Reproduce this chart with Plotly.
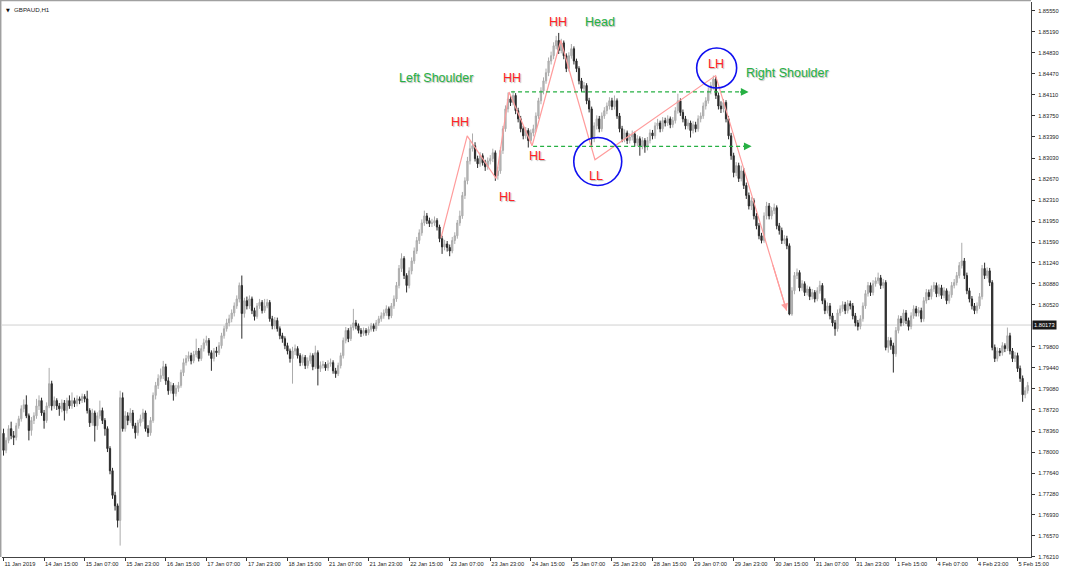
import plotly.graph_objects as go

# ---------------- data ----------------
first_open = 1.7832
closes = [
1.7803,1.7820,1.7840,1.7828,1.7825,1.7845,1.7857,1.7874,1.7881,1.7862,
1.7837,1.7854,1.7862,1.7879,1.7888,1.7867,1.7854,1.7879,1.7917,1.7879,
1.7888,1.7879,1.7874,1.7884,1.7871,1.7888,1.7879,1.7888,1.7883,1.7891,
1.7888,1.7895,1.7891,1.7871,1.7850,1.7867,1.7845,1.7862,1.7871,1.7854,
1.7840,1.7806,1.7768,1.7726,1.7708,1.7683,1.7893,1.7840,1.7862,1.7854,
1.7867,1.7845,1.7833,1.7850,1.7857,1.7867,1.7840,1.7833,1.7854,1.7897,
1.7914,1.7926,1.7931,1.7946,1.7922,1.7905,1.7914,1.7900,1.7909,1.7914,
1.7936,1.7953,1.7960,1.7965,1.7956,1.7967,1.7973,1.7960,1.7977,1.7987,
1.7991,1.7970,1.7960,1.7973,1.7970,1.7982,1.7999,1.8011,1.8021,1.8028,
1.8038,1.8050,1.8062,1.8085,1.8037,1.8059,1.8050,1.8062,1.8042,1.8032,
1.8050,1.8056,1.8042,1.8050,1.8056,1.8028,1.8016,1.8025,1.8011,1.7999,
1.7994,1.7982,1.7973,1.7960,1.7973,1.7977,1.7965,1.7953,1.7962,1.7948,
1.7956,1.7965,1.7946,1.7970,1.7943,1.7948,1.7950,1.7944,1.7951,1.7953,
1.7939,1.7934,1.7948,1.7965,1.7991,1.8008,1.7994,1.8013,1.8021,1.8016,
1.8008,1.8003,1.8008,1.8004,1.8010,1.8016,1.8011,1.8021,1.8028,1.8033,
1.8038,1.8045,1.8033,1.8050,1.8062,1.8085,1.8114,1.8131,1.8102,1.8085,
1.8110,1.8127,1.8144,1.8162,1.8175,1.8192,1.8204,1.8196,1.8191,1.8192,
1.8196,1.8185,1.8165,1.8151,1.8156,1.8150,1.8144,1.8162,1.8170,1.8192,
1.8204,1.8239,1.8264,1.8298,1.8319,1.8324,1.8302,1.8293,1.8307,1.8295,
1.8288,1.8298,1.8302,1.8312,1.8273,1.8281,1.8316,1.8353,1.8387,1.8404,
1.8398,1.8410,1.8384,1.8370,1.8353,1.8341,1.8350,1.8333,1.8346,1.8353,
1.8375,1.8401,1.8418,1.8435,1.8449,1.8469,1.8478,1.8495,1.8504,1.8487,
1.8500,1.8478,1.8456,1.8478,1.8490,1.8469,1.8456,1.8435,1.8422,1.8427,
1.8401,1.8387,1.8336,1.8358,1.8370,1.8353,1.8375,1.8384,1.8392,1.8401,
1.8391,1.8401,1.8375,1.8353,1.8336,1.8346,1.8333,1.8339,1.8344,1.8329,
1.8336,1.8324,1.8333,1.8322,1.8333,1.8346,1.8341,1.8358,1.8363,1.8353,
1.8367,1.8363,1.8370,1.8360,1.8367,1.8384,1.8401,1.8381,1.8370,1.8358,
1.8363,1.8350,1.8360,1.8353,1.8370,1.8375,1.8392,1.8401,1.8418,1.8427,
1.8438,1.8410,1.8392,1.8387,1.8398,1.8370,1.8341,1.8307,1.8278,1.8290,
1.8268,1.8281,1.8256,1.8239,1.8221,1.8230,1.8204,1.8187,1.8170,1.8162,
1.8204,1.8221,1.8204,1.8213,1.8218,1.8187,1.8179,1.8162,1.8165,1.8153,
1.8036,1.8076,1.8102,1.8107,1.8081,1.8088,1.8073,1.8079,1.8066,1.8073,
1.8062,1.8076,1.8085,1.8059,1.8042,1.8050,1.8033,1.8021,1.8011,1.8038,
1.8045,1.8052,1.8042,1.8054,1.8050,1.8033,1.8021,1.8015,1.8028,1.8050,
1.8071,1.8085,1.8073,1.8088,1.8093,1.8098,1.8085,1.8090,1.7979,1.7991,
1.7982,1.7968,1.8008,1.8028,1.8021,1.8038,1.8025,1.8015,1.8033,1.8045,
1.8038,1.8042,1.8028,1.8059,1.8073,1.8066,1.8079,1.8085,1.8071,1.8081,
1.8068,1.8076,1.8059,1.8069,1.8085,1.8090,1.8102,1.8119,1.8127,1.8102,
1.8076,1.8062,1.8050,1.8042,1.8050,1.8066,1.8114,1.8102,1.8110,1.8090,
1.7979,1.7960,1.7973,1.7970,1.7982,1.7977,1.7999,1.7973,1.7960,1.7965,
1.7943,1.7926,1.7898,1.7905,1.7914,
]
highs = [
1.7840,1.7825,1.7846,1.7852,1.7836,1.7850,1.7862,1.7880,1.7890,1.7897,
1.7866,1.7860,1.7868,1.7891,1.7897,1.7893,1.7872,1.7885,1.7944,1.7922,
1.7895,1.7892,1.7884,1.7890,1.7889,1.7893,1.7897,1.7902,1.7893,1.7897,
1.7895,1.7900,1.7899,1.7905,1.7875,1.7874,1.7871,1.7868,1.7888,1.7876,
1.7858,1.7844,1.7810,1.7773,1.7732,1.7712,1.7905,1.7902,1.7870,1.7868,
1.7875,1.7872,1.7850,1.7855,1.7864,1.7874,1.7871,1.7846,1.7860,1.7902,
1.7920,1.7933,1.7943,1.7956,1.7951,1.7928,1.7920,1.7918,1.7915,1.7920,
1.7941,1.7960,1.7966,1.7972,1.7970,1.7973,1.7994,1.7978,1.7983,1.7994,
1.7999,1.7995,1.7974,1.7978,1.7980,1.7988,1.8004,1.8016,1.8028,1.8035,
1.8044,1.8056,1.8068,1.8090,1.8102,1.8064,1.8066,1.8068,1.8066,1.8047,
1.8055,1.8062,1.8060,1.8062,1.8062,1.8060,1.8033,1.8031,1.8030,1.8015,
1.8004,1.7998,1.7987,1.7977,1.7980,1.7984,1.7981,1.7969,1.7967,1.7966,
1.7962,1.7970,1.7969,1.7982,1.7974,1.7955,1.7956,1.7954,1.7957,1.7960,
1.7957,1.7944,1.7953,1.7970,1.7996,1.8014,1.8012,1.8018,1.8045,1.8026,
1.8020,1.8012,1.8013,1.8012,1.8015,1.8021,1.8020,1.8026,1.8033,1.8039,
1.8044,1.8051,1.8049,1.8055,1.8068,1.8091,1.8120,1.8140,1.8135,1.8106,
1.8116,1.8133,1.8150,1.8168,1.8181,1.8198,1.8213,1.8209,1.8201,1.8199,
1.8203,1.8200,1.8189,1.8170,1.8163,1.8161,1.8155,1.8168,1.8176,1.8197,
1.8213,1.8245,1.8270,1.8305,1.8333,1.8345,1.8330,1.8307,1.8313,1.8311,
1.8300,1.8304,1.8308,1.8319,1.8316,1.8288,1.8322,1.8358,1.8393,1.8415,
1.8411,1.8418,1.8414,1.8389,1.8375,1.8358,1.8356,1.8354,1.8352,1.8360,
1.8381,1.8406,1.8424,1.8441,1.8456,1.8475,1.8485,1.8501,1.8512,1.8517,
1.8507,1.8504,1.8482,1.8484,1.8498,1.8494,1.8473,1.8460,1.8440,1.8433,
1.8431,1.8406,1.8391,1.8364,1.8376,1.8375,1.8381,1.8390,1.8398,1.8407,
1.8406,1.8410,1.8405,1.8380,1.8358,1.8352,1.8350,1.8345,1.8350,1.8348,
1.8342,1.8340,1.8339,1.8337,1.8339,1.8352,1.8351,1.8364,1.8370,1.8367,
1.8373,1.8372,1.8376,1.8374,1.8373,1.8390,1.8413,1.8405,1.8386,1.8375,
1.8369,1.8367,1.8366,1.8365,1.8376,1.8381,1.8398,1.8407,1.8424,1.8433,
1.8444,1.8442,1.8415,1.8400,1.8404,1.8402,1.8375,1.8346,1.8312,1.8296,
1.8295,1.8290,1.8286,1.8261,1.8244,1.8236,1.8234,1.8209,1.8192,1.8175,
1.8210,1.8228,1.8226,1.8219,1.8225,1.8222,1.8192,1.8184,1.8171,1.8170,
1.8157,1.8082,1.8108,1.8114,1.8111,1.8094,1.8092,1.8085,1.8083,1.8079,
1.8077,1.8082,1.8093,1.8089,1.8063,1.8056,1.8055,1.8038,1.8026,1.8044,
1.8051,1.8058,1.8057,1.8060,1.8059,1.8055,1.8038,1.8026,1.8034,1.8056,
1.8077,1.8091,1.8090,1.8094,1.8099,1.8107,1.8103,1.8096,1.8094,1.7997,
1.7996,1.7987,1.8014,1.8034,1.8033,1.8044,1.8043,1.8030,1.8039,1.8051,
1.8050,1.8048,1.8047,1.8065,1.8079,1.8078,1.8085,1.8091,1.8090,1.8087,
1.8086,1.8082,1.8080,1.8075,1.8091,1.8096,1.8108,1.8125,1.8158,1.8132,
1.8107,1.8081,1.8067,1.8055,1.8056,1.8072,1.8120,1.8124,1.8116,1.8115,
1.8094,1.7984,1.7979,1.7978,1.7988,1.7986,1.8013,1.8004,1.7978,1.7971,
1.7970,1.7948,1.7931,1.7911,1.7920,
]
lows = [
1.7794,1.7798,1.7815,1.7822,1.7812,1.7820,1.7840,1.7852,1.7868,1.7858,
1.7820,1.7828,1.7848,1.7857,1.7872,1.7862,1.7840,1.7850,1.7875,1.7871,
1.7874,1.7872,1.7862,1.7868,1.7854,1.7866,1.7874,1.7874,1.7877,1.7878,
1.7882,1.7884,1.7885,1.7866,1.7843,1.7845,1.7818,1.7838,1.7857,1.7848,
1.7828,1.7800,1.7762,1.7720,1.7700,1.7671,1.7640,1.7835,1.7835,1.7846,
1.7850,1.7840,1.7823,1.7828,1.7844,1.7852,1.7835,1.7826,1.7828,1.7850,
1.7890,1.7908,1.7920,1.7925,1.7915,1.7898,1.7900,1.7888,1.7895,1.7903,
1.7910,1.7930,1.7948,1.7955,1.7950,1.7952,1.7962,1.7955,1.7956,1.7972,
1.7982,1.7965,1.7939,1.7955,1.7963,1.7966,1.7977,1.7994,1.8006,1.8015,
1.8022,1.8032,1.8045,1.8056,1.7994,1.8030,1.8044,1.8045,1.8036,1.8025,
1.8028,1.8045,1.8037,1.8038,1.8046,1.8023,1.8010,1.8010,1.8006,1.7993,
1.7987,1.7976,1.7967,1.7953,1.7917,1.7966,1.7960,1.7947,1.7948,1.7942,
1.7943,1.7951,1.7940,1.7942,1.7914,1.7937,1.7943,1.7939,1.7939,1.7946,
1.7934,1.7927,1.7930,1.7943,1.7960,1.7986,1.7988,1.7990,1.8008,1.8010,
1.8003,1.7997,1.7999,1.7999,1.8000,1.8006,1.8006,1.8007,1.8016,1.8023,
1.8028,1.8033,1.8027,1.8029,1.8045,1.8057,1.8080,1.8108,1.8096,1.8073,
1.8080,1.8104,1.8122,1.8139,1.8156,1.8170,1.8187,1.8190,1.8185,1.8185,
1.8187,1.8179,1.8159,1.8139,1.8145,1.8143,1.8135,1.8140,1.8156,1.8165,
1.8187,1.8199,1.8233,1.8258,1.8292,1.8314,1.8297,1.8286,1.8288,1.8290,
1.8281,1.8283,1.8292,1.8296,1.8264,1.8266,1.8276,1.8310,1.8348,1.8381,
1.8392,1.8393,1.8378,1.8364,1.8347,1.8335,1.8336,1.8321,1.8328,1.8340,
1.8348,1.8370,1.8395,1.8412,1.8430,1.8443,1.8463,1.8472,1.8489,1.8481,
1.8482,1.8472,1.8450,1.8451,1.8473,1.8463,1.8450,1.8429,1.8416,1.8415,
1.8395,1.8381,1.8324,1.8330,1.8352,1.8347,1.8348,1.8370,1.8378,1.8386,
1.8385,1.8386,1.8370,1.8347,1.8330,1.8330,1.8327,1.8328,1.8333,1.8323,
1.8323,1.8307,1.8318,1.8312,1.8316,1.8328,1.8335,1.8336,1.8352,1.8347,
1.8348,1.8357,1.8358,1.8354,1.8355,1.8362,1.8379,1.8375,1.8364,1.8352,
1.8352,1.8338,1.8345,1.8347,1.8348,1.8364,1.8370,1.8386,1.8396,1.8412,
1.8420,1.8404,1.8386,1.8380,1.8381,1.8364,1.8335,1.8300,1.8270,1.8272,
1.8262,1.8263,1.8250,1.8233,1.8215,1.8214,1.8198,1.8181,1.8164,1.8157,
1.8158,1.8198,1.8198,1.8198,1.8207,1.8181,1.8172,1.8156,1.8156,1.8147,
1.8034,1.8033,1.8070,1.8096,1.8075,1.8076,1.8067,1.8068,1.8060,1.8061,
1.8056,1.8058,1.8071,1.8053,1.8036,1.8037,1.8027,1.8015,1.7999,1.8006,
1.8033,1.8040,1.8036,1.8037,1.8044,1.8027,1.8015,1.8008,1.8010,1.8023,
1.8045,1.8066,1.8067,1.8068,1.8083,1.8088,1.8079,1.8080,1.7974,1.7970,
1.7975,1.7936,1.7963,1.8003,1.8015,1.8016,1.8019,1.8008,1.8010,1.8028,
1.8032,1.8032,1.8022,1.8023,1.8054,1.8060,1.8061,1.8074,1.8065,1.8066,
1.8062,1.8063,1.8053,1.8054,1.8064,1.8080,1.8085,1.8097,1.8114,1.8096,
1.8070,1.8056,1.8044,1.8036,1.8037,1.8045,1.8061,1.8096,1.8097,1.8084,
1.7974,1.7954,1.7955,1.7964,1.7965,1.7971,1.7973,1.7967,1.7954,1.7954,
1.7937,1.7920,1.7886,1.7892,1.7900,
]

time_labels = ["11 Jan 2019", "14 Jan 15:00", "15 Jan 07:00", "15 Jan 23:00",
               "16 Jan 15:00", "17 Jan 07:00", "17 Jan 23:00", "18 Jan 15:00",
               "21 Jan 07:00", "21 Jan 23:00", "22 Jan 15:00", "23 Jan 07:00",
               "23 Jan 23:00", "24 Jan 15:00", "25 Jan 07:00", "25 Jan 23:00",
               "28 Jan 15:00", "29 Jan 07:00", "29 Jan 23:00", "30 Jan 15:00",
               "31 Jan 07:00", "31 Jan 23:00", "1 Feb 15:00", "4 Feb 07:00",
               "4 Feb 23:00", "5 Feb 15:00"]
bars_per_label = 16

price_labels = ["1.85550", "1.85190", "1.84830", "1.84470", "1.84110", "1.83750",
                "1.83390", "1.83030", "1.82670", "1.82310", "1.81950", "1.81590",
                "1.81240", "1.80880", "1.80520", "1.79800", "1.79440", "1.79080",
                "1.78720", "1.78360", "1.78000", "1.77640", "1.77280", "1.76930",
                "1.76570", "1.76210"]
current_price = 1.80173
symbol = "GBPAUD,H1"

# swing zigzag (bar index, price)
zigzag_bars = [172.6, 182.9, 194.3, 199.4, 208.5, 219.8, 233.3, 280.9, 308.9]
zigzag_prices = [1.8167, 1.8341, 1.8268, 1.8416, 1.8324, 1.8504, 1.8300, 1.8444, 1.8042]

# dashed arrows: (bar start, bar end, price)
green_lines = [(200.2, 293.9, 1.8416), (208.9, 295.1, 1.8323)]

# labels: (text, bar, price, colour)
RED = "#ff2222"
GREEN = "#26b043"
labels = [
    ("HH", 180.1, 1.8365, RED), ("HL", 198.6, 1.8237, RED),
    ("HH", 200.6, 1.8440, RED), ("HL", 210.4, 1.8307, RED),
    ("HH", 218.7, 1.8535, RED), ("LL", 233.6, 1.8273, RED),
    ("LH", 280.9, 1.8464, RED),
    ("Left Shoulder", 170.7, 1.8440, GREEN), ("Head", 235.2, 1.8535, GREEN),
    ("Right Shoulder", 309.3, 1.8449, GREEN),
]
# blue circles: (bar, price, radius px)
circles = [(234.4, 1.8297, 24), (281.3, 1.8457, 20)]

# ---------------- figure ----------------
opens = [first_open] + closes[:-1]
xs = list(range(len(closes)))

fig = go.Figure()
fig.add_trace(go.Candlestick(
    x=xs, open=opens, high=highs, low=lows, close=closes,
    increasing=dict(line=dict(color="#ababab", width=1), fillcolor="#bdbdbd"),
    decreasing=dict(line=dict(color="#2b2b2b", width=1), fillcolor="#2b2b2b"),
    whiskerwidth=0, showlegend=False, hoverinfo="skip"))

# current price line
fig.add_shape(type="line", xref="paper", x0=0, x1=1, yref="y",
              y0=current_price, y1=current_price,
              line=dict(color="#d0d0d0", width=1), layer="below")

# zigzag
fig.add_trace(go.Scatter(x=zigzag_bars, y=zigzag_prices, mode="lines",
                         line=dict(color="#ff9c9c", width=1.2),
                         showlegend=False, hoverinfo="skip"))
fig.add_annotation(x=zigzag_bars[-1], y=zigzag_prices[-1], xref="x", yref="y",
                   ax=zigzag_bars[-2] + (zigzag_bars[-1] - zigzag_bars[-2]) * 0.8,
                   ay=zigzag_prices[-2] + (zigzag_prices[-1] - zigzag_prices[-2]) * 0.8,
                   axref="x", ayref="y", text="", showarrow=True,
                   arrowhead=2, arrowsize=1.2, arrowwidth=1.2, arrowcolor="#ff9c9c")

for b0, b1, p in green_lines:
    fig.add_shape(type="line", xref="x", yref="y", x0=b0, x1=b1 - 1.5, y0=p, y1=p,
                  line=dict(color="#26b043", width=1.3, dash="4px,3px"))
    fig.add_annotation(x=b1, y=p, xref="x", yref="y", ax=-10, ay=0, text="",
                       showarrow=True, arrowhead=2, arrowsize=1.1, arrowwidth=1.4,
                       arrowcolor="#26b043")

for bx, py, r in circles:
    fig.add_shape(type="circle", xref="x", yref="y", xsizemode="pixel",
                  ysizemode="pixel", xanchor=bx, yanchor=py,
                  x0=-r, x1=r, y0=-r, y1=r,
                  line=dict(color="#1010f0", width=1.6))

for txt, bx, py, col in labels:
    fig.add_annotation(x=bx, y=py, xref="x", yref="y", text=txt, showarrow=False,
                       font=dict(family="Liberation Sans, Arial", size=12.5, color=col,
                                 shadow="1px 1px 1px #b8b8b8"))

# title
fig.add_annotation(xref="paper", yref="paper", x=0, y=1, xshift=2, yshift=-3,
                   xanchor="left", yanchor="top", showarrow=False, text="▼",
                   font=dict(family="DejaVu Sans", size=5, color="#111"))
fig.add_annotation(xref="paper", yref="paper", x=0, y=1, xshift=10, yshift=-2,
                   xanchor="left", yanchor="top", showarrow=False, text=symbol,
                   font=dict(family="Liberation Sans, Arial", size=6.2, color="#222"))

# current price tag
fig.add_annotation(xref="paper", yref="y", x=1, y=current_price, xanchor="left",
                   xshift=1, showarrow=False, text=f"{current_price:.5f}",
                   bgcolor="#1a1a1a", borderpad=1,
                   font=dict(family="Liberation Sans, Arial", size=5.7, color="white"))

axis_font = dict(family="Liberation Sans, Arial", size=5.7, color="#222")
fig.update_layout(
    width=1068, height=572,
    margin=dict(l=2, r=37, t=2, b=15),
    paper_bgcolor="white", plot_bgcolor="white",
    showlegend=False,
    xaxis=dict(range=[-0.6, 405.3], rangeslider=dict(visible=False),
               tickvals=[i * bars_per_label for i in range(len(time_labels))],
               ticktext=time_labels, ticklabelposition="outside right",
               tickangle=0, ticklabelstandoff=1,
               ticks="outside", ticklen=3, tickcolor="#333", tickfont=axis_font,
               showgrid=False, zeroline=False, showline=True,
               linecolor="#444", linewidth=1),
    yaxis=dict(range=[1.76205, 1.85699], side="right",
               tickvals=[float(t) for t in price_labels], ticktext=price_labels,
               ticks="outside", ticklen=3, tickcolor="#333", tickfont=axis_font,
               ticklabelstandoff=2,
               showgrid=False, zeroline=False, showline=True,
               linecolor="#444", linewidth=1),
)
# outer window frame
fig.add_shape(type="line", xref="paper", yref="paper", x0=-0.0015, x1=-0.0015,
              y0=0, y1=1.01, line=dict(color="#a0a0a0", width=2))
fig.add_shape(type="line", xref="paper", yref="paper", x0=-0.002, x1=1.0,
              y0=1.003, y1=1.003, line=dict(color="#a0a0a0", width=2))

fig.write_html("out.html", config={"displayModeBar": False},
               post_script="document.body.style.margin='0';")
